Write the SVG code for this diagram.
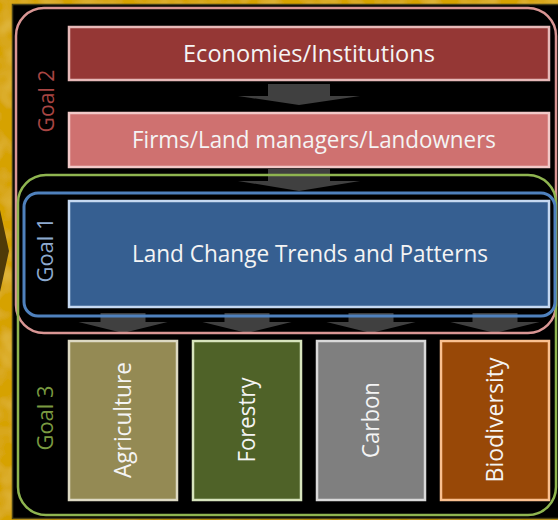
<svg xmlns="http://www.w3.org/2000/svg" width="558" height="520" viewBox="0 0 558 520">
  <defs>
    <style>
      .frame { fill: none; }
      .box { stroke-width: 2.5; }
      .label { font-family: "Open Sans", "Liberation Sans", Arial, sans-serif; fill: #f4f4f4; text-anchor: middle; }
      .goal { font-family: "Open Sans", "Liberation Sans", Arial, sans-serif; font-size: 21px; text-anchor: middle; }
      .arrow { fill: #404040; }
    </style>
    <!-- faint mottling on the gold backdrop -->
    <filter id="mottle" x="0" y="0" width="100%" height="100%">
      <feTurbulence type="fractalNoise" baseFrequency="0.05" numOctaves="2" seed="3" result="noise"/>
      <feColorMatrix in="noise" type="matrix" values="0 0 0 0 0.90  0 0 0 0 0.72  0 0 0 0 0.15  0 0 0 0.6 -0.25" result="spots"/>
      <feComposite in="spots" in2="SourceGraphic" operator="over"/>
    </filter>
  </defs>

  <!-- backdrop -->
  <rect x="0" y="0" width="558" height="520" fill="#d6a202" filter="url(#mottle)"/>
  <polygon points="0,210 9,251 0,292" fill="#4e3a08"/>
  <rect x="12.5" y="4.5" width="550" height="514" fill="#000" stroke="#4a4216" stroke-width="1.5"/>

  <!-- flow arrows -->
  <g id="connectors">
    <path class="arrow" d="M268,84 H330 V96 H360 L299,105 L238,96 H268 Z"/>
    <path class="arrow" d="M268,169 H330 V181 H360 L299,191 L238,181 H268 Z"/>
    <path class="arrow" d="M100.5,313 H145.5 V322 H167.5 L123,333 L78.5,322 H100.5 Z"/>
    <path class="arrow" d="M224.5,313 H269.5 V322 H291.5 L247,333 L202.5,322 H224.5 Z"/>
    <path class="arrow" d="M348.5,313 H393.5 V322 H415.5 L371,333 L326.5,322 H348.5 Z"/>
    <path class="arrow" d="M472.5,313 H517.5 V322 H539.5 L495,333 L450.5,322 H472.5 Z"/>
  </g>

  <!-- goal frames -->
  <g id="goal2">
    <rect class="frame" x="16" y="8" width="540" height="325" rx="28" stroke="#d99694" stroke-width="2.5"/>
    <text class="goal" transform="translate(54,101) rotate(-90)" fill="#a84543" textLength="63" lengthAdjust="spacingAndGlyphs">Goal 2</text>
  </g>
  <g id="goal3">
    <rect class="frame" x="18" y="175" width="538" height="340" rx="28" stroke="#8fb550" stroke-width="2.5"/>
    <text class="goal" transform="translate(53,418) rotate(-90)" fill="#7a9a40" textLength="65" lengthAdjust="spacingAndGlyphs">Goal 3</text>
  </g>
  <g id="goal1">
    <rect class="frame" x="24" y="193" width="531" height="123" rx="14" stroke="#4f81bd" stroke-width="3"/>
    <text class="goal" transform="translate(53,250) rotate(-90)" fill="#8eaad0" textLength="65" lengthAdjust="spacingAndGlyphs">Goal 1</text>
  </g>

  <!-- driver levels -->
  <g id="economies">
    <rect class="box" x="69" y="27" width="480" height="53" fill="#953735" stroke="#e6b9b8"/>
    <text class="label" x="309" y="62" font-size="23" textLength="252" lengthAdjust="spacingAndGlyphs">Economies/Institutions</text>
  </g>
  <g id="firms">
    <rect class="box" x="69" y="113" width="480" height="54" fill="#cf7170" stroke="#f2c9c8"/>
    <text class="label" x="314" y="148" font-size="23" textLength="364" lengthAdjust="spacingAndGlyphs">Firms/Land managers/Landowners</text>
  </g>
  <g id="land-change">
    <rect class="box" x="69" y="201" width="480" height="106" fill="#365f91" stroke="#c6d9f1"/>
    <text class="label" x="310" y="262" font-size="23" textLength="356" lengthAdjust="spacingAndGlyphs">Land Change Trends and Patterns</text>
  </g>

  <!-- outcome sectors -->
  <g id="agriculture">
    <rect class="box" x="69" y="341" width="108" height="159" fill="#948a54" stroke="#ddd9c3"/>
    <text class="label" font-size="23" transform="translate(131,420) rotate(-90)" textLength="116" lengthAdjust="spacingAndGlyphs">Agriculture</text>
  </g>
  <g id="forestry">
    <rect class="box" x="193" y="341" width="108" height="159" fill="#4f6228" stroke="#d7e4bd"/>
    <text class="label" font-size="23" transform="translate(255,420) rotate(-90)" textLength="85" lengthAdjust="spacingAndGlyphs">Forestry</text>
  </g>
  <g id="carbon">
    <rect class="box" x="317" y="341" width="108" height="159" fill="#7f7f7f" stroke="#d9d9d9"/>
    <text class="label" font-size="23" transform="translate(379,420) rotate(-90)" textLength="76" lengthAdjust="spacingAndGlyphs">Carbon</text>
  </g>
  <g id="biodiversity">
    <rect class="box" x="441" y="341" width="108" height="159" fill="#984807" stroke="#fac090"/>
    <text class="label" font-size="23" transform="translate(503,420) rotate(-90)" textLength="125" lengthAdjust="spacingAndGlyphs">Biodiversity</text>
  </g>
</svg>
